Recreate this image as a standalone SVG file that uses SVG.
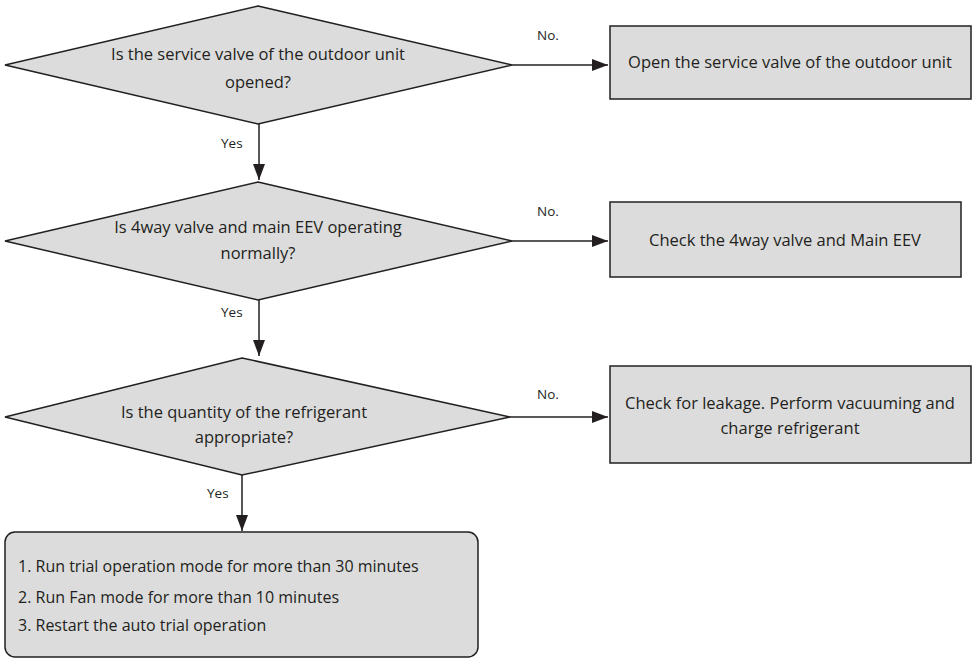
<svg xmlns="http://www.w3.org/2000/svg" width="976" height="659" viewBox="0 0 976 659">
<defs>
<style>
.shape{fill:#dcdcdc;stroke:#231f20;stroke-width:1.5}
.line{fill:none;stroke:#231f20;stroke-width:1.5}
text{font-family:"Open Sans","Liberation Sans",sans-serif;fill:#231f20;font-size:16.5px}
.c{text-anchor:middle}
.lbl{font-size:13.5px}
.lst{font-size:16px}
</style>
<marker id="ah" viewBox="0 0 16 12" refX="16" refY="6" markerWidth="16" markerHeight="12" markerUnits="userSpaceOnUse" orient="auto">
<path d="M0,0 L16,6 L0,12 Z" fill="#231f20"/>
</marker>
</defs>
<rect width="976" height="659" fill="#ffffff"/>
<g id="connectors">
<line class="line" x1="512" y1="65" x2="608" y2="65" marker-end="url(#ah)"/>
<line class="line" x1="259" y1="124" x2="259" y2="180" marker-end="url(#ah)"/>
<line class="line" x1="512" y1="241" x2="608" y2="241" marker-end="url(#ah)"/>
<line class="line" x1="259" y1="300" x2="259" y2="356" marker-end="url(#ah)"/>
<line class="line" x1="510" y1="417" x2="608" y2="417" marker-end="url(#ah)"/>
<line class="line" x1="242" y1="475" x2="242" y2="531" marker-end="url(#ah)"/>
<text class="lbl c" x="548" y="40">No.</text>
<text class="lbl" x="221" y="148">Yes</text>
<text class="lbl c" x="548" y="216">No.</text>
<text class="lbl" x="221" y="317">Yes</text>
<text class="lbl c" x="548" y="399">No.</text>
<text class="lbl" x="207" y="498">Yes</text>
</g>
<g id="d1">
<polygon class="shape" points="258,6 512,65 258,124 5,65"/>
<text class="c" x="258" y="60">Is the service valve of the outdoor unit</text>
<text class="c" x="258" y="88">opened?</text>
</g>
<g id="b1">
<rect class="shape" x="610" y="26" width="361" height="73"/>
<text class="c" x="790" y="68">Open the service valve of the outdoor unit</text>
</g>
<g id="d2">
<polygon class="shape" points="258,182 512,241 258,300 5,241"/>
<text class="c" x="258" y="233">Is 4way valve and main EEV operating</text>
<text class="c" x="258" y="259">normally?</text>
</g>
<g id="b2">
<rect class="shape" x="610" y="202" width="351" height="75"/>
<text class="c" x="785" y="246">Check the 4way valve and Main EEV</text>
</g>
<g id="d3">
<polygon class="shape" points="242,358 510,417 242,475 5,417"/>
<text class="c" x="244" y="418">Is the quantity of the refrigerant</text>
<text class="c" x="244" y="443">appropriate?</text>
</g>
<g id="b3">
<rect class="shape" x="610" y="366" width="361" height="97"/>
<text class="c" x="790" y="409">Check for leakage. Perform vacuuming and</text>
<text class="c" x="790" y="434">charge refrigerant</text>
</g>
<g id="b4">
<rect class="shape" x="5" y="532" width="473" height="125" rx="10" ry="10"/>
<text class="lst" x="18" y="572">1. Run trial operation mode for more than 30 minutes</text>
<text class="lst" x="18" y="603">2. Run Fan mode for more than 10 minutes</text>
<text class="lst" x="18" y="631">3. Restart the auto trial operation</text>
</g>
</svg>
